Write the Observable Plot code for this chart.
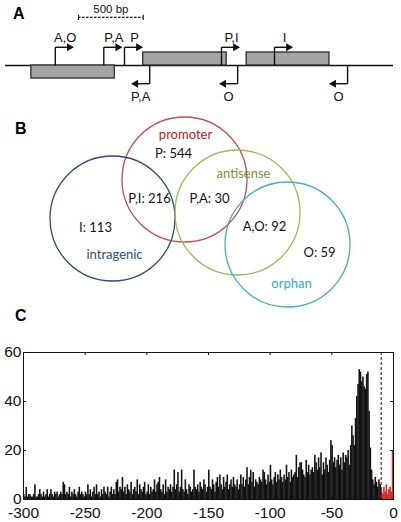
<!DOCTYPE html>
<html>
<head>
<meta charset="utf-8">
<script src="https://cdn.jsdelivr.net/npm/d3@7"></script>
<script src="https://cdn.jsdelivr.net/npm/@observablehq/plot@0.6"></script>
<style>
  html, body { margin: 0; padding: 0; background: #fff; }
  #fig { position: relative; width: 401px; height: 522px; overflow: hidden; background: #fff; }
  .panel { position: absolute; left: 0; }
  .letter { position: absolute; font-family: "Liberation Sans", Arial, sans-serif; font-weight: bold; font-size: 16px; line-height: 16px; color: #000; }
</style>
</head>
<body>
<div id="fig">
  <div class="letter" style="left:13px; top:6px;">A</div>
  <div class="letter" style="left:15px; top:121px;">B</div>
  <div class="letter" style="left:15px; top:308px;">C</div>
  <div class="panel" id="pa" style="top:0px;"></div>
  <div class="panel" id="pb" style="top:110px;"></div>
  <div class="panel" id="pc" style="top:340px;"></div>
</div>
<script>
// ---------------- Panel A data (positions in bp) ----------------
const genomeLength = 3000;
const geneStarts  = [200, 1065, 1865];
const geneEnds    = [845, 1710, 2505];
const geneStrands = [-1, 1, 1];
const tssPositions = [385, 760, 920, 1670, 2080, 1115, 1795, 2645];
const tssStrands   = [1, 1, 1, 1, 1, -1, -1, -1];
const tssLabels    = ["A,O", "P,A", "P", "P,I", "I", "P,A", "O", "O"];
const scaleBarStart = 565;
const scaleBarLength = 500;
const scaleBarLabel = "500 bp";

// ---------------- Panel B data ----------------
const vennSets   = ["promoter", "intragenic", "antisense", "orphan"];
const vennColors = ["#c0504d", "#2c4d7e", "#9bbb59", "#4bacc6"];
const vennTextColors = ["#b0252a", "#2c4d7e", "#76923c", "#31a7dc"];
const regionLabels = ["P: 544", "P,I: 216", "P,A: 30", "I: 113", "A,O: 92", "O: 59"];

// ---------------- Panel C data ----------------
const binStart = -300;
const cutoff = -10;
const xTicks = [-300, -250, -200, -150, -100, -50, 0];
const yTicks = [0, 20, 40, 60];
const blackCounts = [
  2,1,5,1,2,2,1,1,2,6,
  1,1,2,4,2,1,3,1,2,4,
  1,2,4,2,1,3,2,3,1,2,
  3,2,7,6,2,3,2,5,1,3,
  2,4,2,1,3,5,2,3,2,1,
  3,2,6,2,4,1,3,5,2,6,
  2,3,1,4,2,5,3,2,5,1,
  3,5,2,4,2,7,8,3,5,4,
  9,3,5,2,6,4,3,7,2,4,
  5,3,8,2,6,4,3,5,7,2,
  3,6,2,5,3,4,8,3,6,7,
  9,4,3,6,2,8,3,5,4,6,
  3,5,12,4,6,11,3,5,12,4,
  3,8,4,2,6,5,3,4,12,5,
  4,6,3,7,5,4,8,6,3,5,
  12,5,4,8,6,3,7,9,5,10,
  6,4,9,5,7,10,4,6,8,5,
  9,6,5,8,4,6,10,6,9,5,
  8,13,6,9,12,7,11,5,8,7,
  6,9,8,7,12,11,8,6,10,7,
  14,8,6,9,11,7,10,8,12,9,
  7,10,8,14,9,11,7,12,9,10,
  11,18,9,13,15,15,12,10,9,16,
  11,14,10,12,13,11,18,15,12,17,
  13,19,10,15,12,17,14,11,16,24,
  22,15,17,13,16,18,14,17,12,19,
  15,18,17,20,14,22,30,26,22,33,
  42,47,53,52,48,50,46,45,51,52,
  36,21,12,8,6,9,7,5,8,6
];
const redCounts = [4,2,5,3,6,2,4,5,3,20];

// ================= Panel A =================
(function () {
  const genes = geneStarts.map((s, i) => ({start: s, end: geneEnds[i], strand: geneStrands[i]}));
  const tss = tssPositions.map((p, i) => ({pos: p, strand: tssStrands[i], label: tssLabels[i]}));
  const H = 110, U = 13;          // px per vertical unit
  const armH = 1.4, armLen = 95, headAt = 108;
  const font = "Liberation Sans, Arial, sans-serif";
  const chart = Plot.plot({
    width: 401, height: H,
    marginLeft: 5, marginRight: 8, marginTop: 0, marginBottom: 0,
    x: {domain: [0, genomeLength], axis: null},
    y: {domain: [5, 5 - H / U], range: [0, H], axis: null},
    style: {fontFamily: font, background: "transparent", overflow: "visible"},
    marks: [
      Plot.ruleY([0], {stroke: "#111", strokeWidth: 1.3}),
      Plot.rect(genes, {x1: "start", x2: "end", y1: 0, y2: "strand", fill: "#a5a5a5", stroke: "#2a2a2a", strokeWidth: 1.3}),
      Plot.link(tss, {x1: "pos", x2: "pos", y1: 0, y2: d => armH * d.strand, stroke: "#111", strokeWidth: 1.4}),
      Plot.link(tss, {x1: "pos", x2: d => d.pos + armLen * d.strand, y1: d => armH * d.strand, y2: d => armH * d.strand, stroke: "#111", strokeWidth: 1.4}),
      Plot.dot(tss, {x: d => d.pos + headAt * d.strand, y: d => armH * d.strand, symbol: "triangle", rotate: d => 90 * d.strand, r: 3, fill: "#111", stroke: "none"}),
      Plot.text(tss, {x: "pos", y: d => d.strand > 0 ? 2.15 : -2.38, text: "label", fontSize: 13, fill: "#111", textAnchor: "middle"}),
      // scale bar
      Plot.ruleY([3.7], {x1: scaleBarStart, x2: scaleBarStart + scaleBarLength, stroke: "#111", strokeWidth: 1.1, strokeDasharray: "2.5,1.5"}),
      Plot.link([scaleBarStart, scaleBarStart + scaleBarLength], {x1: d => d, x2: d => d, y1: 3.5, y2: 3.9, stroke: "#111", strokeWidth: 1.1}),
      Plot.text([scaleBarLabel], {x: scaleBarStart + scaleBarLength / 2, y: 4.33, text: d => d, fontSize: 11.5, fill: "#111"})
    ]
  });
  // shift labels relative to arrow origin (dx in px)
  const labels = chart.querySelectorAll("g[aria-label='text'] text");
  const dxs = tss.map(d => d.strand > 0 ? 10 : -9);
  labels.forEach((t, i) => { if (i < dxs.length) t.setAttribute("dx", dxs[i]); });
  document.getElementById("pa").appendChild(chart);
})();

// ================= Panel B =================
(function () {
  // layout (figure px within panel B)
  const circlePos = [[184, 69], [112, 108], [237, 102], [287, 134]];
  const namePos = [[185, 24], [114, 144], [243, 63], [291, 173]];
  const countPos = [[173, 43], [149, 88], [209, 88], [95, 117], [264, 116], [319, 142]];
  const circles = vennSets.map((s, i) => ({set: s, cx: circlePos[i][0], cy: circlePos[i][1], color: vennColors[i]}));
  const names = vennSets.map((s, i) => ({name: s, x: namePos[i][0], y: namePos[i][1], color: vennTextColors[i]}));
  const counts = regionLabels.map((l, i) => ({label: l, x: countPos[i][0], y: countPos[i][1]}));
  const chart = Plot.plot({
    width: 401, height: 220,
    margin: 0,
    x: {domain: [0, 401], range: [0, 401], axis: null},
    y: {domain: [0, 220], range: [0, 220], axis: null},
    style: {fontFamily: "Lato, 'Open Sans', sans-serif", background: "transparent", overflow: "visible"},
    marks: [
      Plot.dot(circles, {x: "cx", y: "cy", r: 62.5, stroke: "color", fill: "none", strokeWidth: 1.3}),
      Plot.text(names, {x: "x", y: "y", text: "name", fill: "color", fontSize: 13}),
      Plot.text(counts, {x: "x", y: "y", text: "label", fill: "#111", fontSize: 13})
    ]
  });
  document.getElementById("pb").appendChild(chart);
})();

// ================= Panel C =================
(function () {
  const bins = blackCounts.map((c, i) => ({x: binStart + i, count: c, red: false}))
    .concat(redCounts.map((c, i) => ({x: cutoff + i, count: c, red: true})));
  const W = 401, H = 182, mL = 23, mR = 8, mT = 12, mB = 23;
  const innerW = W - mL - mR, innerH = H - mT - mB, tk = 3;
  const chart = Plot.plot({
    width: W, height: H,
    marginLeft: mL, marginRight: mR, marginTop: mT, marginBottom: mB,
    x: {domain: [-300, 0], label: null},
    y: {domain: [0, 60], label: null},
    style: {fontFamily: "Liberation Sans, Arial, sans-serif", background: "transparent", overflow: "visible"},
    marks: [
      Plot.rectY(bins, {x1: "x", x2: d => d.x + 1, y: "count", fill: d => d.red ? "#d8261f" : "#141212",
        insetRight: -0.35, stroke: "none"}),
      Plot.ruleX([cutoff], {stroke: "#111", strokeWidth: 1, strokeDasharray: "3,2"}),
      Plot.frame({stroke: "#111", strokeWidth: 1}),
      Plot.ruleX(xTicks, {insetTop: innerH - tk, stroke: "#111"}),
      Plot.ruleX(xTicks, {insetBottom: innerH - tk, stroke: "#111"}),
      Plot.ruleY(yTicks, {insetRight: innerW - tk, stroke: "#111"}),
      Plot.ruleY(yTicks, {insetLeft: innerW - tk, stroke: "#111"}),
      Plot.axisX({ticks: xTicks, tickSize: 0, tickPadding: 7, tickFormat: d => String(d), fontSize: 15.5, fill: "#111", label: null}),
      Plot.axisY({ticks: yTicks, tickSize: 0, tickPadding: 2, tickFormat: d => String(d), fontSize: 15.5, fill: "#111", label: null})
    ]
  });
  document.getElementById("pc").appendChild(chart);
})();
</script>
</body>
</html>
